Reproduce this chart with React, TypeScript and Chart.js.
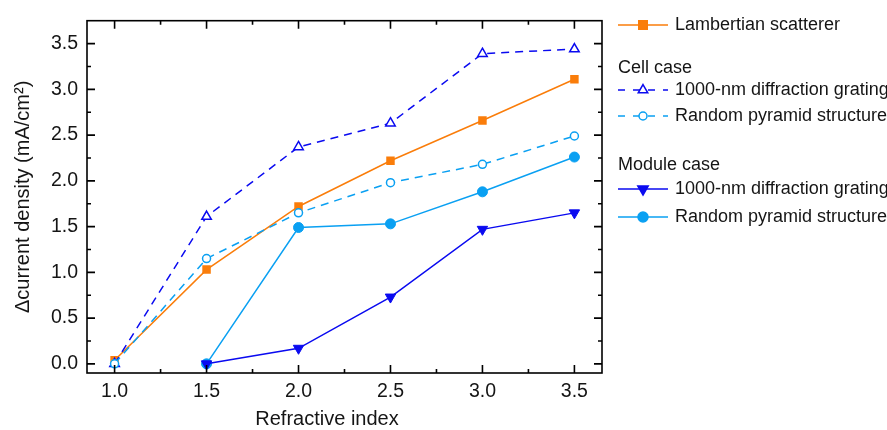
import { useEffect, useRef } from 'react';
import { Chart, registerables } from 'chart.js';

Chart.register(...registerables);

// ---- data ----
const refractiveIndex = [1.0, 1.5, 2.0, 2.5, 3.0, 3.5];
const lambertian = [0.04, 1.03, 1.72, 2.22, 2.66, 3.11];
const cellGrating = [0.0, 1.61, 2.37, 2.63, 3.39, 3.44];
const cellPyramid = [0.0, 1.15, 1.65, 1.98, 2.18, 2.49];
const moduleGrating = [null, 0.0, 0.17, 0.73, 1.47, 1.65];
const modulePyramid = [null, 0.0, 1.49, 1.53, 1.88, 2.26];

const xTickValues = [1.0, 1.5, 2.0, 2.5, 3.0, 3.5];
const xTickLabels = ['1.0', '1.5', '2.0', '2.5', '3.0', '3.5'];
const xMinorTicks = [1.25, 1.75, 2.25, 2.75, 3.25];
const yTickValues = [0.0, 0.5, 1.0, 1.5, 2.0, 2.5, 3.0, 3.5];
const yTickLabels = ['0.0', '0.5', '1.0', '1.5', '2.0', '2.5', '3.0', '3.5'];
const yMinorTicks = [0.25, 0.75, 1.25, 1.75, 2.25, 2.75, 3.25];

const xTitle = 'Refractive index';
const yTitle = 'Δcurrent density (mA/cm²)';

const seriesLabels = [
  'Lambertian scatterer',
  '1000-nm diffraction grating',
  'Random pyramid structure',
  '1000-nm diffraction grating',
  'Random pyramid structure',
];
const groupHeadings = ['Cell case', 'Module case'];

const ORANGE = '#FA7D0A';
const BLUE = '#0A0AF0';
const LIGHT = '#0AA0F2';
const TEXT = '#151515';
const FONT = '"Liberation Sans", Arial, Helvetica, sans-serif';

type Marker = 'rect' | 'triangle' | 'circle' | 'down';

function drawMarker(
  ctx: CanvasRenderingContext2D,
  kind: Marker,
  x: number,
  y: number,
  r: number,
  color: string,
  filled: boolean
) {
  ctx.save();
  ctx.beginPath();
  if (kind === 'rect') {
    const s = Math.SQRT1_2 * r;
    ctx.rect(x - s, y - s, 2 * s, 2 * s);
  } else if (kind === 'circle') {
    ctx.arc(x, y, r, 0, Math.PI * 2);
  } else if (kind === 'triangle') {
    ctx.moveTo(x, y - r);
    ctx.lineTo(x + Math.sin((2 * Math.PI) / 3) * r, y + 0.5 * r);
    ctx.lineTo(x - Math.sin((2 * Math.PI) / 3) * r, y + 0.5 * r);
    ctx.closePath();
  } else {
    ctx.moveTo(x, y + r);
    ctx.lineTo(x + Math.sin((2 * Math.PI) / 3) * r, y - 0.5 * r);
    ctx.lineTo(x - Math.sin((2 * Math.PI) / 3) * r, y - 0.5 * r);
    ctx.closePath();
  }
  ctx.fillStyle = filled ? color : '#ffffff';
  ctx.fill();
  ctx.lineWidth = 1.5;
  ctx.strokeStyle = color;
  ctx.stroke();
  ctx.restore();
}

const legendRows: { kind: 'item' | 'head'; idx: number; y: number }[] = [
  { kind: 'item', idx: 0, y: 25 },
  { kind: 'head', idx: 0, y: 68 },
  { kind: 'item', idx: 1, y: 90 },
  { kind: 'item', idx: 2, y: 116 },
  { kind: 'head', idx: 1, y: 165 },
  { kind: 'item', idx: 3, y: 189 },
  { kind: 'item', idx: 4, y: 217 },
];

const legendStyles: { color: string; dash: number[]; marker: Marker; r: number; filled: boolean }[] = [
  { color: ORANGE, dash: [], marker: 'rect', r: 6, filled: true },
  { color: BLUE, dash: [7, 8], marker: 'triangle', r: 5.5, filled: false },
  { color: LIGHT, dash: [7, 8], marker: 'circle', r: 4, filled: false },
  { color: BLUE, dash: [], marker: 'down', r: 6, filled: true },
  { color: LIGHT, dash: [], marker: 'circle', r: 5, filled: true },
];

const decorPlugin = {
  id: 'decor',
  afterDraw(chart: any) {
    const ctx: CanvasRenderingContext2D = chart.ctx;
    const { left, right, top, bottom } = chart.chartArea;
    const xs = chart.scales.x;
    const ys = chart.scales.y;
    ctx.save();
    ctx.strokeStyle = '#000';
    ctx.lineWidth = 1.6;
    ctx.strokeRect(left, top, right - left, bottom - top);
    ctx.beginPath();
    const tick = (vals: number[], len: number) => {
      vals.forEach((v) => {
        const px = xs.getPixelForValue(v);
        ctx.moveTo(px, bottom);
        ctx.lineTo(px, bottom - len);
        ctx.moveTo(px, top);
        ctx.lineTo(px, top + len);
      });
    };
    const ytick = (vals: number[], len: number) => {
      vals.forEach((v) => {
        const py = ys.getPixelForValue(v);
        ctx.moveTo(left, py);
        ctx.lineTo(left + len, py);
        ctx.moveTo(right, py);
        ctx.lineTo(right - len, py);
      });
    };
    tick(xTickValues, 8);
    tick(xMinorTicks, 4);
    ytick(yTickValues, 8);
    ytick(yMinorTicks, 4);
    ctx.stroke();

    // axis titles
    ctx.fillStyle = TEXT;
    ctx.font = `20px ${FONT}`;
    ctx.textAlign = 'center';
    ctx.textBaseline = 'middle';
    ctx.fillText(xTitle, 327, 419);
    ctx.save();
    ctx.translate(23, (top + bottom) / 2);
    ctx.rotate(-Math.PI / 2);
    ctx.fillText(yTitle, 0, 0);
    ctx.restore();

    // legend
    const lx0 = right + 16;
    const lx1 = lx0 + 50;
    const mx = (lx0 + lx1) / 2;
    const tx = lx1 + 7;
    ctx.font = `18px ${FONT}`;
    ctx.textAlign = 'left';
    legendRows.forEach((row) => {
      if (row.kind === 'head') {
        ctx.fillStyle = TEXT;
        ctx.fillText(groupHeadings[row.idx], lx0, row.y);
      } else {
        const st = legendStyles[row.idx];
        ctx.save();
        ctx.strokeStyle = st.color;
        ctx.lineWidth = 1.5;
        ctx.setLineDash(st.dash);
        ctx.beginPath();
        ctx.moveTo(lx0, row.y);
        ctx.lineTo(lx1, row.y);
        ctx.stroke();
        ctx.restore();
        drawMarker(ctx, st.marker, mx, row.y, st.r, st.color, st.filled);
        ctx.fillStyle = TEXT;
        ctx.fillText(seriesLabels[row.idx], tx, row.y);
      }
    });
    ctx.restore();
  },
};

export default function App() {
  const ref = useRef<HTMLCanvasElement | null>(null);
  useEffect(() => {
    if (!ref.current) return;
    const mk = (vals: (number | null)[]) => refractiveIndex.map((x, i) => ({ x, y: vals[i] }));
    const chart = new Chart(ref.current, {
      type: 'line',
      data: {
        datasets: [
          {
            label: seriesLabels[0],
            data: mk(lambertian) as any,
            borderColor: ORANGE,
            backgroundColor: ORANGE,
            borderWidth: 1.5,
            pointStyle: 'rect',
            pointRadius: 6,
            pointBorderWidth: 0,
            pointBackgroundColor: ORANGE,
            order: 3,
          },
          {
            label: seriesLabels[1],
            data: mk(cellGrating) as any,
            borderColor: BLUE,
            borderWidth: 1.5,
            borderDash: [8, 6],
            pointStyle: 'triangle',
            pointRadius: 5.5,
            pointBorderWidth: 1.5,
            pointBackgroundColor: '#ffffff',
            pointBorderColor: BLUE,
            order: 2,
          },
          {
            label: seriesLabels[2],
            data: mk(cellPyramid) as any,
            borderColor: LIGHT,
            borderWidth: 1.5,
            borderDash: [8, 6],
            pointStyle: 'circle',
            pointRadius: 4,
            pointBorderWidth: 1.5,
            pointBackgroundColor: '#ffffff',
            pointBorderColor: LIGHT,
            order: 0,
          },
          {
            label: seriesLabels[3],
            data: mk(moduleGrating) as any,
            borderColor: BLUE,
            borderWidth: 1.5,
            pointStyle: 'triangle',
            pointRotation: 180,
            pointRadius: 6,
            pointBorderWidth: 1,
            pointBackgroundColor: BLUE,
            pointBorderColor: BLUE,
            order: 1,
          },
          {
            label: seriesLabels[4],
            data: mk(modulePyramid) as any,
            borderColor: LIGHT,
            borderWidth: 1.5,
            pointStyle: 'circle',
            pointRadius: 5,
            pointBorderWidth: 1,
            pointBackgroundColor: LIGHT,
            pointBorderColor: LIGHT,
            order: 4,
          },
        ],
      },
      options: {
        responsive: false,
        animation: false,
        devicePixelRatio: 1,
        layout: { padding: { top: 15, right: 285, left: 0, bottom: 0 } },
        plugins: { legend: { display: false }, tooltip: { enabled: false } },
        elements: { line: { tension: 0 } },
        scales: {
          x: {
            type: 'linear',
            min: 0.85,
            max: 3.65,
            grid: { display: false, drawTicks: false, tickLength: 0 },
            border: { display: false },
            afterBuildTicks: (s: any) => {
              s.ticks = xTickValues.map((v) => ({ value: v }));
            },
            afterFit: (s: any) => {
              s.height = 57;
            },
            ticks: {
              padding: 7,
              color: TEXT,
              font: { family: FONT, size: 19.5 },
              maxRotation: 0,
              callback: (_v: any, i: number) => xTickLabels[i],
            },
          },
          y: {
            type: 'linear',
            min: -0.1,
            max: 3.75,
            grid: { display: false, drawTicks: false, tickLength: 0 },
            border: { display: false },
            afterBuildTicks: (s: any) => {
              s.ticks = yTickValues.map((v) => ({ value: v }));
            },
            afterFit: (s: any) => {
              s.width = 87;
            },
            ticks: {
              padding: 9,
              color: TEXT,
              font: { family: FONT, size: 19.5 },
              callback: (_v: any, i: number) => yTickLabels[i],
            },
          },
        },
      },
      plugins: [decorPlugin],
    });
    return () => chart.destroy();
  }, []);
  return (
    <div style={{ position: 'absolute', left: 0, top: 0, width: 887, height: 430, background: '#fff' }}>
      <canvas ref={ref} width={887} height={430} style={{ width: 887, height: 430 }} />
    </div>
  );
}
